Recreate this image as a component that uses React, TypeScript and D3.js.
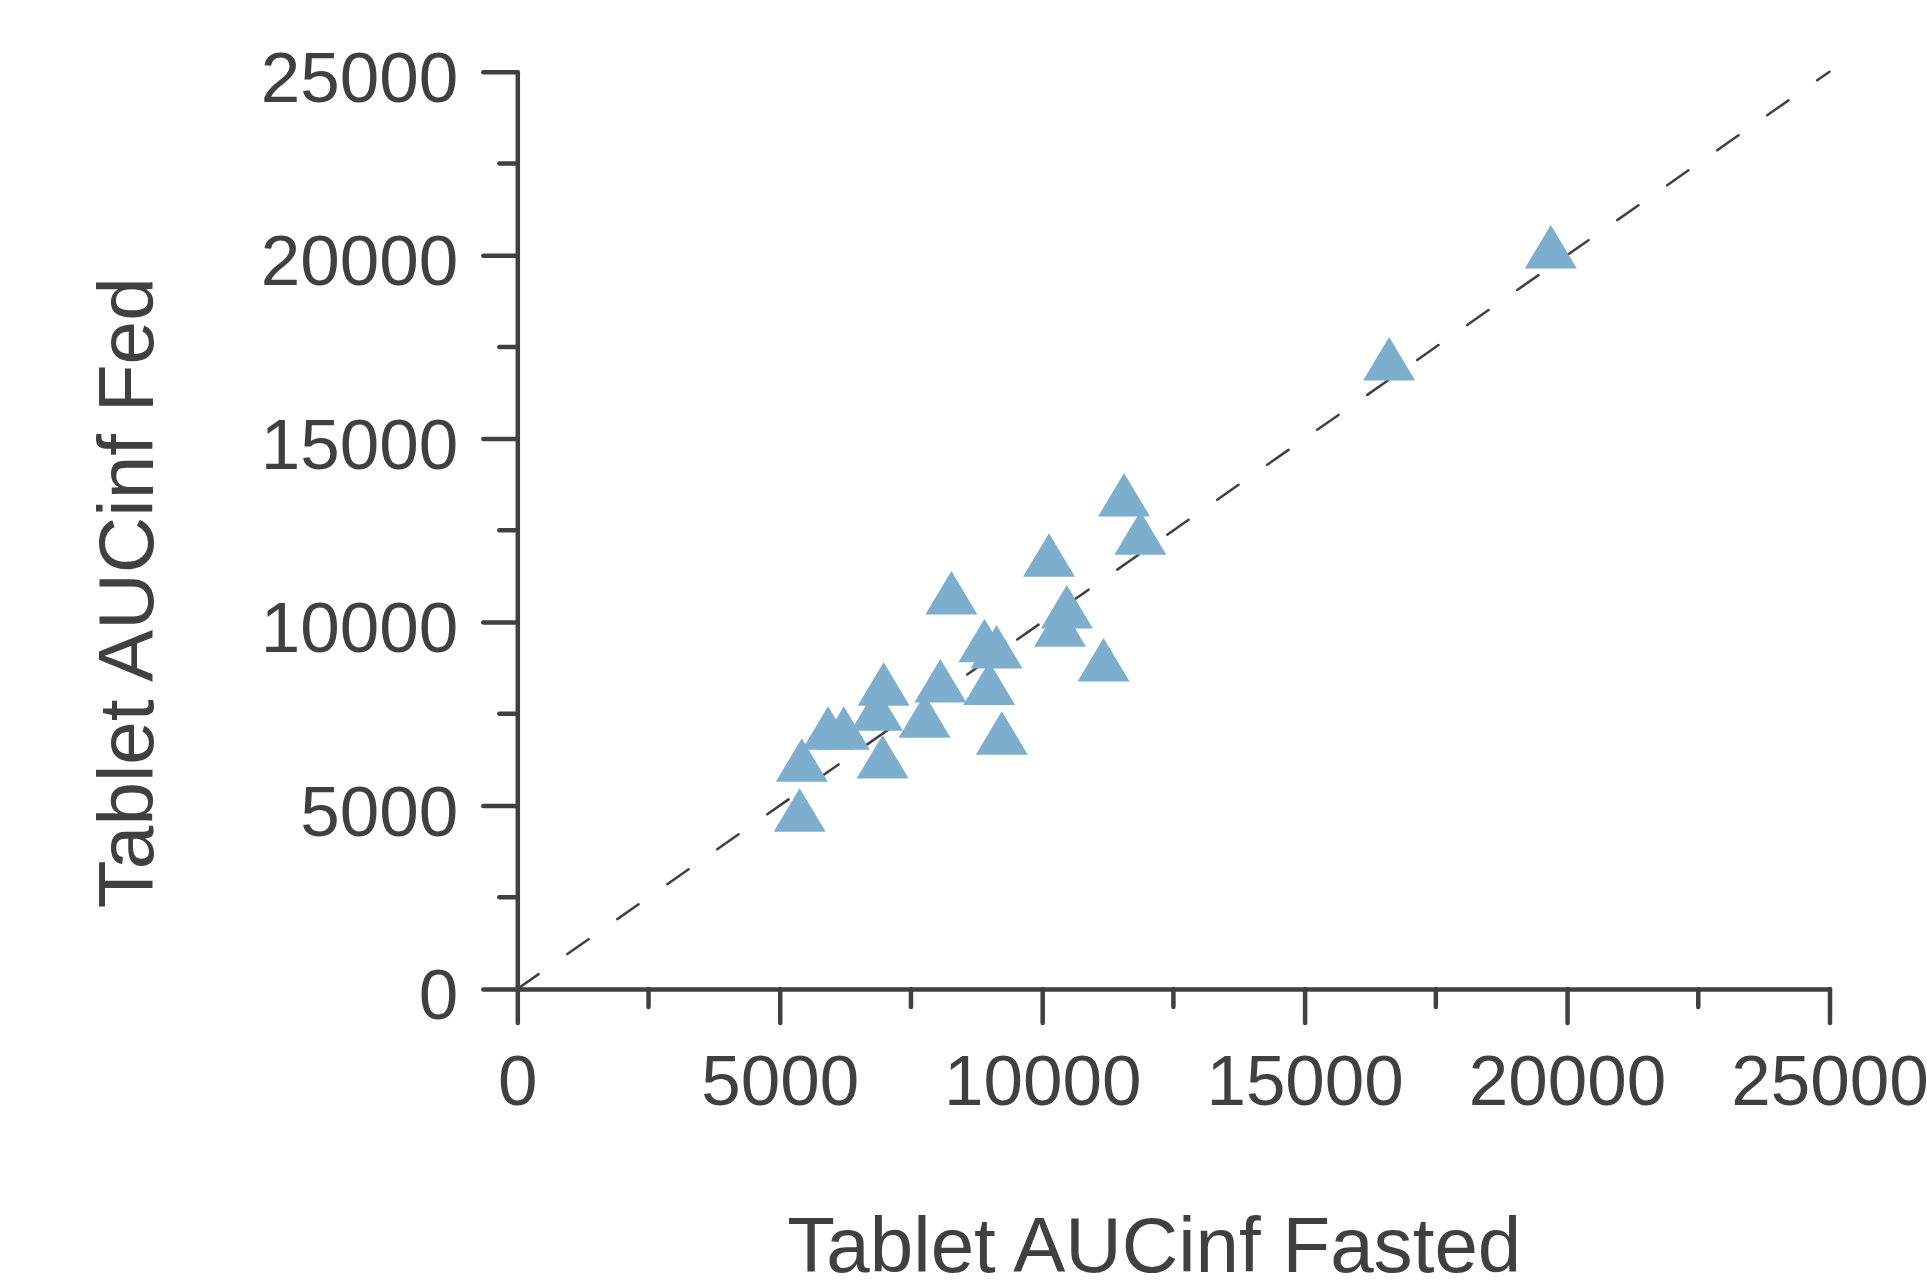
import React, { useEffect, useRef } from "react";
import * as d3 from "d3";

// AUCinf per subject
const fasted = [11560, 11870, 10130, 8270, 10470, 10340, 8900, 9130, 11170, 8990, 8060, 6980, 9230, 7760, 6850, 5920, 6220, 5420, 6960, 5380, 16610, 19690];
const fed = [13470, 12430, 11830, 10800, 10420, 9920, 9500, 9330, 8970, 8330, 8400, 8310, 6980, 7440, 7630, 7110, 7110, 6240, 6330, 4880, 17180, 20230];
const majorTicks = [0, 5000, 10000, 15000, 20000, 25000];
const minorTicks = [2500, 7500, 12500, 17500, 22500];
const xTitle = "Tablet AUCinf Fasted";
const yTitle = "Tablet AUCinf Fed";

const W = 1927;
const H = 1284;
const ink = "#404040";
const font = "'Liberation Sans', Arial, sans-serif";

const App = () => {
  const ref = useRef<SVGSVGElement>(null);

  useEffect(() => {
    const svg = d3.select(ref.current);
    svg.selectAll("*").remove();

    const x = d3.scaleLinear().domain([0, 25000]).range([517.3, 1829.5]);
    const y = d3.scaleLinear().domain([0, 25000]).range([989, 71.7]);

    // identity line
    svg
      .append("line")
      .attr("x1", x(0))
      .attr("y1", y(0))
      .attr("x2", x(25000))
      .attr("y2", y(25000))
      .attr("stroke", ink)
      .attr("stroke-width", 2.5)
      .attr("stroke-dasharray", "26 35")
      .attr("stroke-linecap", "round");

    // points
    const tw = 52;
    const th = 43.5;
    svg
      .append("g")
      .selectAll("path")
      .data(fasted.map((f, i) => [f, fed[i]]))
      .join("path")
      .attr("d", `M0,${-th / 2}L${tw / 2},${th / 2}L${-tw / 2},${th / 2}Z`)
      .attr("transform", d => `translate(${x(d[0])},${y(d[1])})`)
      .attr("fill", "#7EAECD");

    // axes
    const xAxis = svg
      .append("g")
      .attr("transform", `translate(0,${y(0)})`)
      .call(
        d3.axisBottom(x).tickValues(majorTicks).tickSize(34).tickSizeOuter(0).tickPadding(32).tickFormat(d3.format("d"))
      );
    xAxis
      .append("g")
      .selectAll("line")
      .data(minorTicks)
      .join("line")
      .attr("x1", d => x(d))
      .attr("x2", d => x(d))
      .attr("y2", 18);

    const yAxis = svg
      .append("g")
      .attr("transform", `translate(${x(0)},0)`)
      .call(
        d3.axisLeft(y).tickValues(majorTicks).tickSize(34).tickSizeOuter(0).tickPadding(25).tickFormat(d3.format("d"))
      );
    yAxis
      .append("g")
      .selectAll("line")
      .data(minorTicks)
      .join("line")
      .attr("y1", d => y(d))
      .attr("y2", d => y(d))
      .attr("x2", -18);
    yAxis.selectAll(".tick text").attr("dy", "0.42em");

    svg
      .selectAll(".domain, line")
      .filter(function () {
        return (this as Element).parentNode !== svg.node();
      })
      .attr("stroke", ink)
      .attr("stroke-width", 4.5)
      .attr("stroke-linecap", "round");

    svg
      .selectAll(".tick text")
      .attr("fill", ink)
      .style("font-family", font)
      .style("font-size", "71px");

    // titles
    svg
      .append("text")
      .attr("x", 787.3)
      .attr("y", 1271.7)
      .attr("textLength", 734)
      .attr("lengthAdjust", "spacingAndGlyphs")
      .attr("fill", ink)
      .style("font-family", font)
      .style("font-size", "77px")
      .text(xTitle);

    svg
      .append("text")
      .attr("transform", "translate(152.7,908.3) rotate(-90)")
      .attr("textLength", 631)
      .attr("lengthAdjust", "spacingAndGlyphs")
      .attr("fill", ink)
      .style("font-family", font)
      .style("font-size", "77px")
      .text(yTitle);
  }, []);

  return (
    <svg
      ref={ref}
      width={W}
      height={H}
      style={{ position: "absolute", left: 0, top: 0, background: "#fff" }}
    />
  );
};

export default App;
